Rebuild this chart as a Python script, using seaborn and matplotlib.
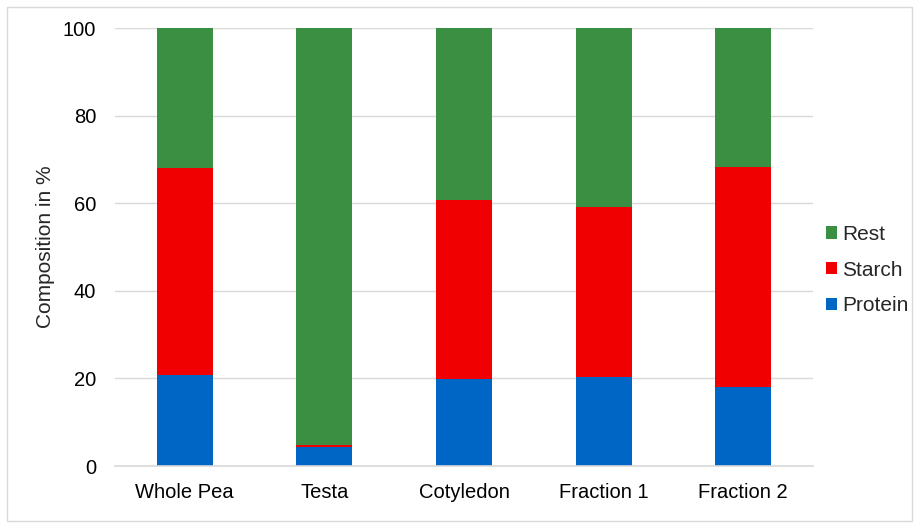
import matplotlib
matplotlib.use("Agg")
import matplotlib.pyplot as plt
from matplotlib.patches import Patch, Rectangle
import seaborn as sns
import pandas as pd
import numpy as np

# Composition of pea fractions (%)
categories = ["Whole Pea", "Testa", "Cotyledon", "Fraction 1", "Fraction 2"]
protein = [20.8, 4.3, 19.9, 20.3, 18.0]
starch = [47.2, 0.5, 40.9, 38.8, 50.3]
rest = [32.0, 95.2, 39.2, 40.9, 31.7]

colors = {"Protein": "#0066C6", "Starch": "#F00000", "Rest": "#3A8F43"}

sns.set_theme(style="white")
plt.rcParams["font.family"] = ["Liberation Sans", "DejaVu Sans"]

df = pd.DataFrame({"category": categories, "Protein": protein,
                   "Starch": starch, "Rest": rest})
df["top_protein"] = df["Protein"]
df["top_starch"] = df["Protein"] + df["Starch"]
df["top_rest"] = df["top_starch"] + df["Rest"]

fig = plt.figure(figsize=(9.19, 5.28), dpi=100)
ax = fig.add_axes([115 / 919, 1 - 466 / 528, (813 - 115) / 919, (466 - 28) / 528])

# stacked bars: draw cumulative totals from largest down
for col, name in [("top_rest", "Rest"), ("top_starch", "Starch"), ("top_protein", "Protein")]:
    sns.barplot(data=df, x="category", y=col, color=colors[name], width=0.4,
                saturation=1, ax=ax, order=categories, linewidth=0)

fs = 14.5
ax.set_ylim(0, 100)
ax.set_yticks(np.arange(0, 101, 20))
ax.set_xlim(-0.5, len(categories) - 0.5)
ax.yaxis.grid(True, color="#D9D9D9", linewidth=1)
ax.set_axisbelow(True)
for s in ["top", "right", "left"]:
    ax.spines[s].set_visible(False)
ax.spines["bottom"].set_color("#D9D9D9")
ax.spines["bottom"].set_linewidth(1.2)
ax.tick_params(axis="both", length=0, labelsize=fs, colors="#000000")
ax.tick_params(axis="y", pad=13.5)
ax.tick_params(axis="x", pad=12)
ax.set_xlabel("")
ax.set_ylabel("Composition in %", fontsize=15, labelpad=5.5)

handles = [Patch(facecolor=colors[n], edgecolor="none", label=n) for n in ["Rest", "Starch", "Protein"]]
leg = fig.legend(handles=handles, loc="center left", bbox_to_anchor=(811 / 919, 1 - 270 / 528),
                 frameon=False, fontsize=15, handlelength=0.55, handleheight=0.55,
                 handletextpad=0.25, labelspacing=0.8, borderpad=0.2)

# chart frame
fig.patches.append(Rectangle((7 / 919, 7 / 528), 1 - 14 / 919, 1 - 14 / 528,
                             transform=fig.transFigure, fill=False,
                             edgecolor="#D9D9D9", linewidth=1))

fig.savefig("out.png", dpi=100)
